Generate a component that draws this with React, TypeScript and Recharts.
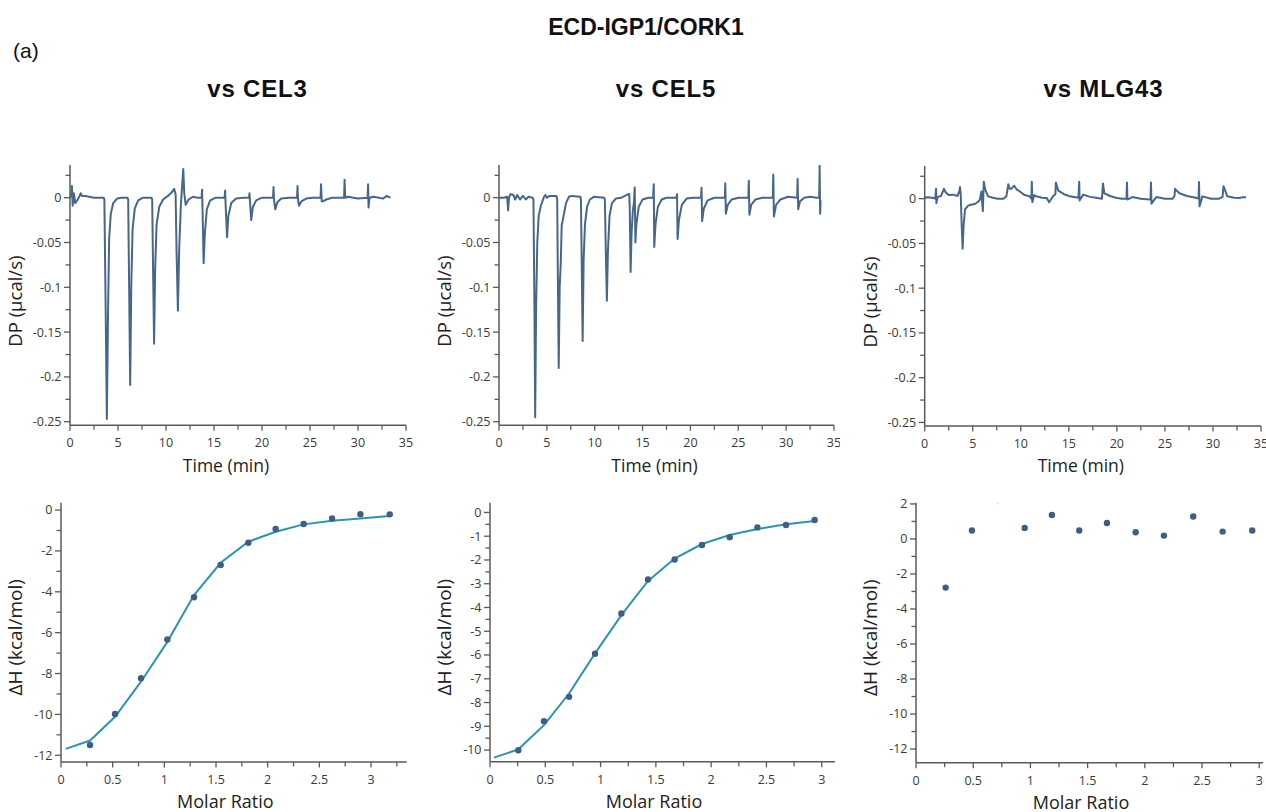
import React from 'react';
import { LineChart, Line, XAxis, YAxis, ComposedChart, Scatter } from 'recharts';

// ---------- DATA ----------
// Raw thermograms: [time (min), DP (µcal/s)]
const cel3Trace: number[][] = [
  [0, 0], [0.12, 0.004], [0.2, 0.013], [0.28, -0.009], [0.4, 0.005], [0.55, -0.006], [0.8, -0.002], [1.0, 0.002], [1.12, 0.005], [1.25, 0.002], [1.6, 0.002], [2.0, 0.001], [2.5, 0], [3.0, 0], [3.5, 0],
  [3.58, -0.002], [3.72, -0.13], [3.84, -0.247], [3.96, -0.13], [4.08, -0.045], [4.25, -0.018], [4.5, -0.006], [4.9, -0.001], [5.4, 0], [6.0, 0],
  [6.06, -0.002], [6.17, -0.11], [6.27, -0.209], [6.38, -0.1], [6.52, -0.035], [6.75, -0.012], [7.1, -0.003], [7.6, 0], [8.5, 0],
  [8.56, -0.002], [8.66, -0.085], [8.76, -0.163], [8.87, -0.08], [9.02, -0.03], [9.3, -0.01], [9.7, -0.002], [10.2, 0.002], [10.6, 0.006], [10.85, 0.01], [11.0, 0.004],
  [11.1, -0.06], [11.24, -0.126], [11.38, -0.055], [11.55, -0.008], [11.72, 0.02], [11.8, 0.032], [11.9, 0.005], [12.05, -0.008], [12.35, -0.002], [12.8, 0.001], [13.3, 0], [13.7, 0],
  [13.76, 0.009], [13.8, -0.01], [13.92, -0.073], [14.05, -0.04], [14.25, -0.013], [14.6, -0.003], [15.2, 0], [16.1, 0],
  [16.16, 0.008], [16.22, -0.01], [16.36, -0.044], [16.5, -0.02], [16.8, -0.006], [17.3, -0.001], [18.0, 0], [18.65, 0],
  [18.7, 0.005], [18.75, -0.005], [18.88, -0.025], [19.05, -0.01], [19.4, -0.003], [20.0, 0], [21.15, 0],
  [21.2, 0.012], [21.25, -0.002], [21.38, -0.013], [21.6, -0.005], [22.0, -0.001], [22.8, 0], [23.65, 0],
  [23.7, 0.013], [23.75, -0.002], [23.85, -0.009], [24.1, -0.004], [24.6, -0.001], [25.3, 0], [26.1, 0],
  [26.15, 0.015], [26.22, -0.004], [26.35, -0.004], [26.7, -0.002], [27.3, 0], [28.55, 0],
  [28.6, 0.02], [28.67, 0], [29.0, 0.001], [29.5, 0], [30.0, -0.001], [31.0, 0],
  [31.05, 0.015], [31.1, -0.011], [31.2, 0], [31.6, 0.001], [32.2, 0], [32.6, -0.001], [33.0, 0.002], [33.2, 0.001], [33.4, 0],
];

const cel5Trace: number[][] = [
  [0, 0], [0.5, 0], [0.85, 0.001], [0.95, -0.014], [1.05, 0], [1.2, 0.004], [1.5, 0.003], [1.7, -0.002], [1.9, 0.003], [2.2, -0.002], [2.5, 0.002], [2.8, -0.002], [3.1, 0.001], [3.5, 0],
  [3.6, -0.002], [3.7, -0.12], [3.78, -0.245], [3.88, -0.12], [4.0, -0.05], [4.15, -0.02], [4.4, -0.008], [4.7, 0.001], [4.85, 0.003], [5.0, 0], [5.3, 0.002], [6.0, 0.002],
  [6.08, -0.002], [6.16, -0.1], [6.24, -0.19], [6.34, -0.1], [6.45, -0.074], [6.55, -0.031], [6.75, -0.02], [7.0, -0.006], [7.3, 0.001], [7.6, 0.002], [8.5, 0.001],
  [8.56, -0.002], [8.65, -0.08], [8.74, -0.16], [8.84, -0.07], [8.98, -0.03], [9.2, -0.01], [9.5, -0.002], [9.9, 0.001], [11.0, 0],
  [11.06, -0.002], [11.16, -0.06], [11.27, -0.115], [11.38, -0.06], [11.55, -0.02], [11.8, -0.006], [12.2, -0.001], [12.8, 0], [13.5, 0.004], [13.6, 0.004],
  [13.66, -0.01], [13.75, -0.083], [13.85, -0.04], [13.98, -0.015], [14.1, -0.005], [14.18, 0.0115], [14.25, -0.05], [14.35, -0.03], [14.6, -0.01], [15.0, -0.002], [15.6, 0], [16.1, 0],
  [16.17, 0.015], [16.22, -0.055], [16.35, -0.03], [16.6, -0.01], [17.0, -0.002], [17.5, 0], [18.55, 0],
  [18.6, 0.004], [18.66, -0.046], [18.8, -0.025], [19.1, -0.008], [19.6, -0.001], [20.3, 0], [21.1, 0],
  [21.16, 0.011], [21.22, -0.026], [21.4, -0.012], [21.8, -0.003], [22.5, 0], [23.6, 0],
  [23.64, 0.016], [23.7, -0.018], [23.9, -0.008], [24.3, -0.002], [25.0, 0], [26.05, 0],
  [26.1, 0.019], [26.16, -0.019], [26.35, -0.008], [26.8, -0.002], [27.5, 0], [28.6, 0],
  [28.66, 0.026], [28.72, -0.021], [28.95, -0.008], [29.4, -0.002], [30.2, 0.001], [31.15, 0],
  [31.2, 0.021], [31.26, -0.013], [31.45, -0.004], [31.9, 0], [32.5, 0.001], [33.2, 0], [33.45, 0],
  [33.5, 0.036], [33.55, -0.018], [33.6, -0.003],
];

const mlg43Trace: number[][] = [
  [0, 0.001], [0.3, 0.0015], [0.8, 0.001], [1.1, 0], [1.18, 0.011], [1.22, -0.005], [1.35, 0.002], [1.7, 0.003], [2.0, 0.011], [2.2, 0.007], [2.5, 0.004], [3.0, 0.0045], [3.4, 0.003], [3.6, 0.008], [3.67, 0.013],
  [3.75, 0.005], [3.85, -0.03], [3.95, -0.056], [4.05, -0.03], [4.2, -0.012], [4.5, -0.008], [4.7, -0.007], [5.2, -0.006], [5.5, -0.004], [5.75, -0.001], [5.9, 0.008], [6.05, -0.014], [6.15, 0.019], [6.3, 0.01],
  [6.6, 0.0026], [7.1, 0.001], [7.6, 0], [8.2, 0], [8.5, 0.0026], [8.7, 0.016], [8.85, 0.011], [9.0, 0.011], [9.3, 0.0145], [9.6, 0.01], [9.9, 0.008], [10.4, 0.004], [10.9, 0.0026],
  [11.1, 0], [11.15, 0.019], [11.2, -0.004], [11.4, 0.004], [11.6, 0.0026], [12.2, 0.001], [12.7, 0.0008], [12.95, -0.004], [13.35, 0.0026], [13.6, 0.005], [13.65, 0.018], [13.9, 0.009], [14.5, 0.005], [15.1, 0.0026],
  [16.0, 0.001], [16.08, 0.019], [16.12, -0.002], [16.5, 0.0045], [17.2, 0.002], [17.85, 0.001], [18.45, 0], [18.55, 0.017], [18.7, 0.006], [19.3, 0.003], [19.9, 0.001], [20.5, 0],
  [21.0, 0], [21.05, 0.018], [21.1, -0.001], [21.6, 0.0018], [22.5, 0], [23.4, -0.001], [23.5, 0], [23.55, 0.018], [23.6, -0.0056], [24.1, 0.0018], [25.0, 0], [25.8, 0],
  [26.0, 0.003], [26.05, 0.011], [26.5, 0.006], [27.3, 0.003], [28.2, 0.001], [28.5, 0], [28.55, 0.0186], [28.6, -0.0086], [28.9, 0.0026], [29.8, 0], [30.65, 0],
  [31.0, 0.002], [31.1, 0.014], [31.5, 0.0026], [32.2, 0.001], [32.75, 0.0008], [33.1, 0.0015], [33.45, 0.0015],
];

// Integrated heats
const cel3Ratio = [0.281, 0.523, 0.774, 1.029, 1.287, 1.545, 1.813, 2.077, 2.348, 2.623, 2.897, 3.181];
const cel3DH = [-11.5, -9.98, -8.23, -6.33, -4.27, -2.69, -1.6, -0.93, -0.68, -0.41, -0.2, -0.21];
const cel3FitRatio = [0.045, 0.281, 0.523, 0.774, 1.029, 1.287, 1.545, 1.813, 2.077, 2.348, 2.623, 2.897, 3.181];
const cel3FitDH = [-11.69, -11.28, -10.12, -8.4, -6.45, -4.16, -2.58, -1.55, -1.06, -0.7, -0.52, -0.41, -0.29];

const cel5Ratio = [0.256, 0.488, 0.715, 0.95, 1.188, 1.429, 1.67, 1.917, 2.168, 2.418, 2.677, 2.936];
const cel5DH = [-10.01, -8.79, -7.76, -5.95, -4.25, -2.82, -1.98, -1.37, -1.04, -0.63, -0.53, -0.32];
const cel5FitRatio = [0.036, 0.256, 0.488, 0.715, 0.95, 1.188, 1.429, 1.67, 1.917, 2.168, 2.418, 2.677, 2.936];
const cel5FitDH = [-10.32, -9.97, -8.95, -7.62, -5.93, -4.32, -2.88, -1.94, -1.33, -0.95, -0.7, -0.5, -0.36];

const mlg43Ratio = [0.259, 0.489, 0.95, 1.188, 1.427, 1.669, 1.92, 2.167, 2.423, 2.68, 2.939];
const mlg43DH = [-2.78, 0.48, 0.63, 1.37, 0.48, 0.91, 0.38, 0.19, 1.28, 0.42, 0.48];
const mlg43ExcludedRatio = [0.714];
const mlg43ExcludedDH = [2.04];

// Tick labels
const timeMajor = [0, 5, 10, 15, 20, 25, 30, 35];
const timeMinor = [2.5, 7.5, 12.5, 17.5, 22.5, 27.5, 32.5];
const dpMajor = [0, -0.05, -0.1, -0.15, -0.2, -0.25];
const dpMinor = [0.025, -0.025, -0.075, -0.125, -0.175, -0.225];
const ratioMajor = [0, 0.5, 1, 1.5, 2, 2.5, 3];
const ratioMinor = [0.25, 0.75, 1.25, 1.75, 2.25, 2.75];
const ratioMinorLong = [0.25, 0.75, 1.25, 1.75, 2.25, 2.75, 3.25];
const dh1Major = [0, -2, -4, -6, -8, -10, -12];
const dh1Minor = [-1, -3, -5, -7, -9, -11];
const dh2Major = [0, -1, -2, -3, -4, -5, -6, -7, -8, -9, -10];
const dh2Minor = [-0.5, -1.5, -2.5, -3.5, -4.5, -5.5, -6.5, -7.5, -8.5, -9.5];
const dh3Major = [2, 0, -2, -4, -6, -8, -10, -12];
const dh3Minor = [1, -1, -3, -5, -7, -9, -11];

// ---------- STYLE ----------
const AXIS = '#5a5a5a';
const TRACE = '#45678c';
const DOT = '#3d5f87';
const FIT = '#2996b1';
const TICK_FONT = "'Open Sans', 'DejaVu Sans', sans-serif";
const TITLE_FONT = "'Liberation Sans', Arial, sans-serif";

const toTrace = (arr: number[][]) => arr.map(([t, dp]) => ({ t, dp }));
const toPts = (r: number[], h: number[]) => r.map((x, i) => ({ r: x, dH: h[i] }));

const isIn = (list: number[], v: number) => list.some((m) => Math.abs(m - v) < 1e-9);

function makeYTick(majors: number[]) {
  return (p: any) => {
    const v = p.payload.value;
    const major = isIn(majors, v);
    const len = major ? 6 : 4.5;
    return (
      <g>
        <line x1={p.x} x2={p.x - len} y1={p.y} y2={p.y} stroke={AXIS} strokeWidth={1.3} />
        {major && (
          <text x={p.x - 8.5} y={p.y} dy={4.4} textAnchor="end" fontSize={12.5} fill="#3a3a3a" fontFamily={TICK_FONT}>
            {String(v)}
          </text>
        )}
      </g>
    );
  };
}

function makeXTick(majors: number[]) {
  return (p: any) => {
    const v = p.payload.value;
    const major = isIn(majors, v);
    const len = major ? 5.5 : 4.5;
    return (
      <g>
        <line x1={p.x} x2={p.x} y1={p.y} y2={p.y + len} stroke={AXIS} strokeWidth={1.3} />
        {major && (
          <text x={p.x} y={p.y + 22} textAnchor="middle" fontSize={12.5} fill="#3a3a3a" fontFamily={TICK_FONT}>
            {String(v)}
          </text>
        )}
      </g>
    );
  };
}

const XTitle = (props: any) => {
  const { viewBox, titleText, shiftX, shiftY, fsize } = props;
  if (!viewBox) return null;
  return (
    <text x={viewBox.x + viewBox.width / 2 + shiftX} y={viewBox.y + shiftY} textAnchor="middle" fontSize={fsize} fill="#222" fontFamily={TICK_FONT}>
      {titleText}
    </text>
  );
};

const YTitle = (props: any) => {
  const { viewBox, titleText, dist, shiftY, fsize } = props;
  if (!viewBox) return null;
  const cx = viewBox.x + viewBox.width - dist;
  const cy = viewBox.y + viewBox.height / 2 + shiftY;
  return (
    <text x={cx} y={cy} transform={`rotate(-90 ${cx} ${cy})`} textAnchor="middle" dominantBaseline="central" fontSize={fsize} fill="#222" fontFamily={TICK_FONT}>
      {titleText}
    </text>
  );
};

const axisLine = { stroke: AXIS, strokeWidth: 1.5 };

type TopSpec = { left: number; top: number; yw: number; mt: number; mr: number; mb: number; data: number[][] };

const TopPanel = ({ spec }: { spec: TopSpec }) => (
  <div style={{ position: 'absolute', left: spec.left, top: spec.top }}>
    <LineChart width={420} height={335} data={toTrace(spec.data)} margin={{ top: spec.mt, right: spec.mr, bottom: spec.mb, left: 0 }}>
      <XAxis
        type="number"
        dataKey="t"
        domain={[0, 35]}
        allowDataOverflow
        ticks={[...timeMajor, ...timeMinor].sort((a, b) => a - b)}
        interval={0}
        tickSize={0}
        tickMargin={0}
        tick={makeXTick(timeMajor)}
        height={40}
        axisLine={axisLine}
        tickLine={false}
        label={<XTitle titleText="Time (min)" shiftX={-12} shiftY={46.4} fsize={17.5} />}
      />
      <YAxis
        type="number"
        domain={[-0.254, 0.0365]}
        allowDataOverflow
        ticks={[...dpMajor, ...dpMinor].sort((a, b) => a - b)}
        interval={0}
        tickSize={0}
        tickMargin={0}
        tick={makeYTick(dpMajor)}
        width={spec.yw}
        axisLine={axisLine}
        tickLine={false}
        label={<YTitle titleText="DP (µcal/s)" dist={55.5} shiftY={6} fsize={18.5} />}
      />
      <Line type="linear" dataKey="dp" stroke={TRACE} strokeWidth={2} strokeLinejoin="round" dot={false} isAnimationActive={false} />
    </LineChart>
  </div>
);

type BotSpec = {
  left: number; top: number; yw: number; mt: number; mr: number; mb: number;
  xDomain: number[]; yDomain: number[]; xMinor: number[]; yMajor: number[]; yMinor: number[];
  pts: { r: number; dH: number }[]; fit?: { r: number; dH: number }[]; faint?: { r: number; dH: number }[];
};

const dotShape = (p: any) => <circle cx={p.cx} cy={p.cy} r={3.2} fill={DOT} />;
const faintShape = (p: any) => <circle cx={p.cx} cy={p.cy} r={1} fill="#d8dde3" />;

const BottomPanel = ({ spec }: { spec: BotSpec }) => (
  <div style={{ position: 'absolute', left: spec.left, top: spec.top }}>
    <ComposedChart width={420} height={322} margin={{ top: spec.mt, right: spec.mr, bottom: spec.mb, left: 0 }}>
      <XAxis
        type="number"
        dataKey="r"
        domain={spec.xDomain}
        allowDataOverflow
        ticks={[...ratioMajor, ...spec.xMinor].sort((a, b) => a - b)}
        interval={0}
        tickSize={0}
        tickMargin={0}
        tick={makeXTick(ratioMajor)}
        height={40}
        axisLine={axisLine}
        tickLine={false}
        label={<XTitle titleText="Molar Ratio" shiftX={-8.5} shiftY={46.3} fsize={18} />}
      />
      <YAxis
        type="number"
        dataKey="dH"
        domain={spec.yDomain}
        allowDataOverflow
        ticks={[...spec.yMajor, ...spec.yMinor].sort((a, b) => a - b)}
        interval={0}
        tickSize={0}
        tickMargin={0}
        tick={makeYTick(spec.yMajor)}
        width={spec.yw}
        axisLine={axisLine}
        tickLine={false}
        label={<YTitle titleText="ΔH (kcal/mol)" dist={46.3} shiftY={5} fsize={19} />}
      />
      {spec.fit && (
        <Line data={spec.fit} type="linear" dataKey="dH" stroke={FIT} strokeWidth={2} dot={false} isAnimationActive={false} />
      )}
      {spec.faint && <Scatter data={spec.faint} dataKey="dH" shape={faintShape} isAnimationActive={false} />}
      <Scatter data={spec.pts} dataKey="dH" shape={dotShape} isAnimationActive={false} />
    </ComposedChart>
  </div>
);

export default function App() {
  const tops: TopSpec[] = [
    { left: 0, top: 150, yw: 70, mt: 15, mr: 14, mb: 19.7, data: cel3Trace },
    { left: 420, top: 150, yw: 79, mt: 15, mr: 6, mb: 19.7, data: cel5Trace },
    { left: 846, top: 150, yw: 78.7, mt: 16, mr: 5, mb: 19, data: mlg43Trace },
  ];
  const bots: BotSpec[] = [
    {
      left: 0, top: 490, yw: 61, mt: 12.7, mr: 13.3, mb: 10,
      xDomain: [0, 3.345], yDomain: [-12.33, 0.36], xMinor: ratioMinorLong, yMajor: dh1Major, yMinor: dh1Minor,
      pts: toPts(cel3Ratio, cel3DH), fit: toPts(cel3FitRatio, cel3FitDH),
    },
    {
      left: 420, top: 490, yw: 70, mt: 12.7, mr: 5, mb: 10.3,
      xDomain: [0, 3.12], yDomain: [-10.49, 0.41], xMinor: ratioMinor, yMajor: dh2Major, yMinor: dh2Minor,
      pts: toPts(cel5Ratio, cel5DH), fit: toPts(cel5FitRatio, cel5FitDH),
    },
    {
      left: 846, top: 490, yw: 70, mt: 12.7, mr: 3, mb: 9.3,
      xDomain: [0, 3.033], yDomain: [-12.78, 2.07], xMinor: ratioMinor, yMajor: dh3Major, yMinor: dh3Minor,
      pts: toPts(mlg43Ratio, mlg43DH), faint: toPts(mlg43ExcludedRatio, mlg43ExcludedDH),
    },
  ];
  return (
    <div style={{ position: 'absolute', left: 0, top: 0, width: 1266, height: 812, background: '#fff', overflow: 'hidden' }}>
      <svg width={1266} height={812} style={{ position: 'absolute', left: 0, top: 0 }}>
        <text x={646} y={35} textAnchor="middle" fontSize={23} fontWeight="bold" fontFamily={TITLE_FONT} fill="#111">ECD-IGP1/CORK1</text>
        <text x={13} y={58} fontSize={21} fontFamily={TITLE_FONT} fill="#111">(a)</text>
        <text x={257.5} y={97} textAnchor="middle" fontSize={24} fontWeight="bold" fontFamily={TITLE_FONT} fill="#111" letterSpacing={0.8}>vs CEL3</text>
        <text x={666} y={97} textAnchor="middle" fontSize={24} fontWeight="bold" fontFamily={TITLE_FONT} fill="#111" letterSpacing={0.8}>vs CEL5</text>
        <text x={1103.5} y={97} textAnchor="middle" fontSize={24} fontWeight="bold" fontFamily={TITLE_FONT} fill="#111" letterSpacing={0.8}>vs MLG43</text>
      </svg>
      {tops.map((s, i) => <TopPanel key={'t' + i} spec={s} />)}
      {bots.map((s, i) => <BottomPanel key={'b' + i} spec={s} />)}
    </div>
  );
}
